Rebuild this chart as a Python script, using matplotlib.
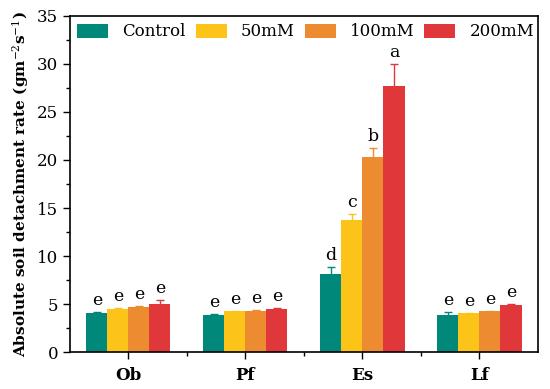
import matplotlib.pyplot as plt
import numpy as np
from matplotlib.ticker import MultipleLocator

plt.rcParams['font.family'] = ['DejaVu Serif']
plt.rcParams['mathtext.fontset'] = 'dejavuserif'

sites = ['Ob', 'Pf', 'Es', 'Lf']
groups = ['Control', '50mM', '100mM', '200mM']
colors = ['#00897B', '#FCC419', '#EC8B2F', '#E0373B']

control = [4.1, 3.9, 8.1, 3.85]
mm50 = [4.5, 4.25, 13.7, 4.05]
mm100 = [4.7, 4.3, 20.3, 4.25]
mm200 = [5.05, 4.45, 27.7, 4.95]

err_control = [0.05, 0.1, 0.75, 0.35]
err_50 = [0.1, 0.05, 0.65, 0.05]
err_100 = [0.1, 0.05, 1.0, 0.05]
err_200 = [0.35, 0.1, 2.3, 0.1]

letters_control = ['e', 'e', 'd', 'e']
letters_50 = ['e', 'e', 'c', 'e']
letters_100 = ['e', 'e', 'b', 'e']
letters_200 = ['e', 'e', 'a', 'e']

values = [control, mm50, mm100, mm200]
errs = [err_control, err_50, err_100, err_200]
letters = [letters_control, letters_50, letters_100, letters_200]

fig = plt.figure(figsize=(5.5, 3.89), dpi=100)
ax = fig.add_axes([0.127, 0.095, 0.851, 0.864])

x = np.arange(len(sites))
w = 0.18
for i in range(4):
    pos = x + (i - 1.5) * w
    ax.bar(pos, values[i], width=w, color=colors[i], label=groups[i], zorder=2)
    ax.errorbar(pos, values[i], yerr=errs[i], fmt='none', ecolor=colors[i],
                elinewidth=1, capsize=3, capthick=1, zorder=3)
    for p, v, e, t in zip(pos, values[i], errs[i], letters[i]):
        ax.text(p, v + e + 0.3, t, ha='center', va='bottom', fontsize=12.5)

ax.set_xlim(-0.5, 3.5)
ax.set_ylim(0, 35)
ax.set_xticks(x)
ax.set_xticklabels(sites, fontsize=12, fontweight='bold')
ax.set_xticks(x[:-1] + 0.5, minor=True)
ax.yaxis.set_major_locator(MultipleLocator(5))
ax.yaxis.set_minor_locator(MultipleLocator(2.5))
ax.tick_params(axis='y', labelsize=12, direction='out', length=5, width=1)
ax.tick_params(axis='x', which='major', direction='out', length=5, width=1, pad=6)
ax.tick_params(axis='both', which='minor', direction='out', length=3, width=1)
for s in ax.spines.values():
    s.set_linewidth(1.2)

ax.set_ylabel('Absolute soil detachment rate (gm$^{-2}$s$^{-1}$)',
              fontsize=11, fontweight='bold', labelpad=4)

ax.legend(loc='upper left', ncol=4, frameon=False, fontsize=12,
          bbox_to_anchor=(0.0, 1.0), handlelength=1.85, handleheight=0.9,
          columnspacing=0.6, handletextpad=0.85, borderaxespad=0.25,
          borderpad=0.2)

fig.savefig('out.png', dpi=100)
